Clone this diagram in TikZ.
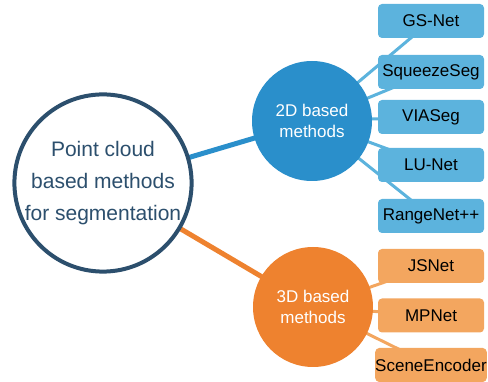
\documentclass[tikz,border=0pt]{standalone}
\usepackage{fontspec}
\setmainfont{Liberation Sans}
\usetikzlibrary{backgrounds}
\definecolor{darkblue}{HTML}{2C4F6D}
\definecolor{blueA}{HTML}{2A8FCB}
\definecolor{blueB}{HTML}{5CB3DD}
\definecolor{orangeA}{HTML}{EE822F}
\definecolor{orangeB}{HTML}{F3A65F}
\tikzset{
  mainnode/.style={circle, draw=darkblue, line width=4pt, fill=white, minimum size=176pt, inner sep=0pt, align=center, text=darkblue, font=\fontsize{21}{32}\selectfont},
  catnode/.style={circle, minimum size=120pt, inner sep=0pt, align=center, text=white, font=\fontsize{17}{21}\selectfont},
  leafnode/.style={rounded corners=4pt, minimum width=106pt, minimum height=34pt, inner sep=0pt, text=black, font=\fontsize{17}{20}\selectfont},
  thickline/.style={line width=5pt},
  thinline/.style={line width=3pt},
}
\begin{document}
\begin{tikzpicture}[x=1pt,y=-1pt]
\useasboundingbox (0,0) rectangle (488,382);
\node[mainnode] (root) at (103,183) {Point cloud\\based methods\\for segmentation};
\node[catnode, fill=blueA] (c2d) at (312,121) {2D based\\methods};
\node[catnode, fill=orangeA] (c3d) at (313,307) {3D based\\methods};
\node[leafnode, fill=blueB] (gs) at (431,21) {GS-Net};
\node[leafnode, fill=blueB] (sq) at (431,72) {SqueezeSeg};
\node[leafnode, fill=blueB] (via) at (431,117) {VIASeg};
\node[leafnode, fill=blueB] (lu) at (431,165) {LU-Net};
\node[leafnode, fill=blueB] (rn) at (431,216) {RangeNet++};
\node[leafnode, fill=orangeB] (js) at (431,266) {JSNet};
\node[leafnode, fill=orangeB] (mp) at (431,315.5) {MPNet};
\node[leafnode, fill=orangeB] (se) at (431,365) {SceneEncoder};
\begin{scope}[on background layer]
  \draw[thickline, blueA] (root.center) -- (c2d.center);
  \draw[thickline, orangeA] (root.center) -- (c3d.center);
  \foreach \n in {gs,sq,via,lu,rn} \draw[thinline, blueB] (c2d.center) -- (\n.center);
  \foreach \n in {js,mp,se} \draw[thinline, orangeB] (c3d.center) -- (\n.center);
\end{scope}
\end{tikzpicture}
\end{document}
